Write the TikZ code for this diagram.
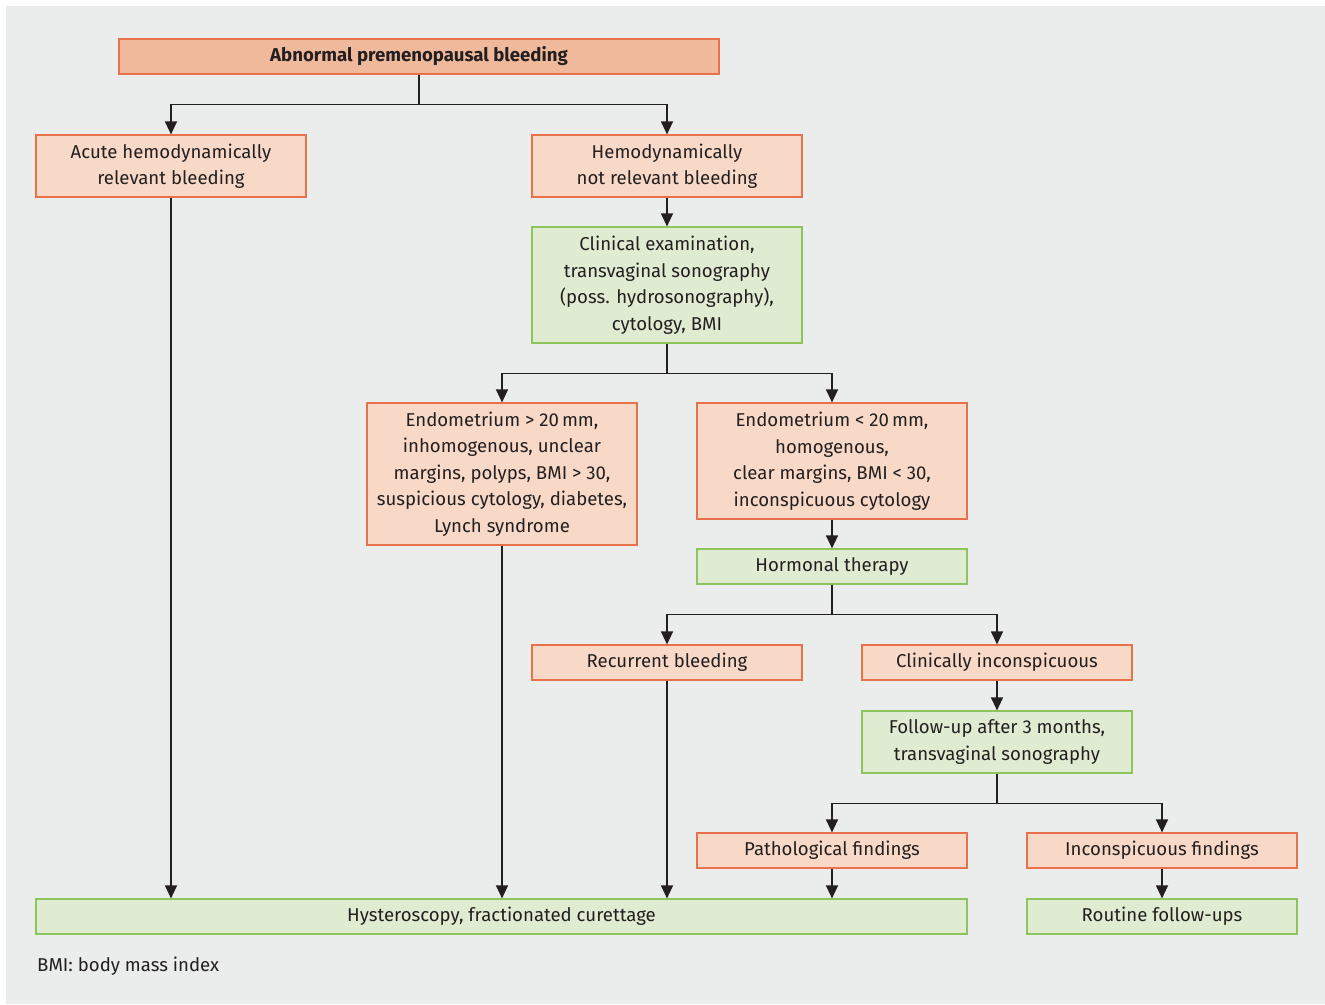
\documentclass[tikz,border=0pt]{standalone}
\usepackage{fontspec}
\setmainfont{Fira Sans}
\usetikzlibrary{arrows.meta,positioning}
\definecolor{bgGray}{HTML}{EBECEC}
\definecolor{redFill}{HTML}{F8D9C8}
\definecolor{redTop}{HTML}{F0B99B}
\definecolor{redLine}{HTML}{E6714B}
\definecolor{greenFill}{HTML}{E0ECD2}
\definecolor{greenLine}{HTML}{8DC45C}
\definecolor{inkDark}{HTML}{231F20}
\newcommand*{\boxW}{270pt}
\newcommand*{\drop}{30}

\begin{document}
\begin{tikzpicture}[x=1pt,y=-1pt,
	every node/.style={font=\fontsize{18.6}{26.5}\selectfont, text=inkDark, align=center, inner sep=0pt},
	redbox/.style={draw=redLine, fill=redFill, line width=1.2pt, minimum width=\boxW},
	greenbox/.style={draw=greenLine, fill=greenFill, line width=1.2pt, minimum width=\boxW},
	arr/.style={draw=inkDark, line width=1.3pt, -{Triangle[length=13pt,width=12pt]}},
	link/.style={draw=inkDark, line width=1.3pt}]
	\useasboundingbox (0,0) rectangle (1325,1004);
	\fill[white] (0,0) rectangle (1325,1004);
	\fill[bgGray] (6,6) rectangle (1325,1004);
	
	% boxes
	\node[redbox, fill=redTop, minimum width=600pt, minimum height=35pt] (start) at (419,56.5) {\bfseries Abnormal premenopausal bleeding};
	\node[redbox, minimum height=62pt] (acute) at (171,166) {Acute hemodynamically\\relevant bleeding};
	\node[redbox, minimum height=62pt] (notrel) at (667,166) {Hemodynamically\\not relevant bleeding};
	\node[greenbox, minimum height=116pt] (exam) at (667,285) {Clinical examination,\\transvaginal sonography\\(poss. hydrosonography),\\cytology, BMI};
	\node[redbox, minimum height=142pt] (thick) at (502,474) {Endometrium > 20\,mm,\\inhomogenous, unclear\\margins, polyps, BMI > 30,\\suspicious cytology, diabetes,\\Lynch syndrome};
	\node[redbox, minimum height=116pt] (thin) at (832,461) {Endometrium < 20\,mm,\\homogenous,\\clear margins, BMI < 30,\\inconspicuous cytology};
	\node[greenbox, minimum height=35pt] (hormone) at (832,566.5) {Hormonal therapy};
	\node[redbox, minimum height=35pt] (recur) at (667,662.5) {Recurrent bleeding};
	\node[redbox, minimum height=35pt] (clininc) at (997,662.5) {Clinically inconspicuous};
	\node[greenbox, minimum height=62pt] (follow) at (997,742) {Follow-up after 3 months,\\transvaginal sonography};
	\node[redbox, minimum height=35pt] (patho) at (832,850.5) {Pathological findings};
	\node[redbox, minimum height=35pt] (inconsp) at (1162,850.5) {Inconspicuous findings};
	\node[greenbox, minimum width=931pt, minimum height=35pt] (hyst) at (501.5,916.5) {Hysteroscopy, fractionated curettage};
	\node[greenbox, minimum height=35pt] (routine) at (1162,916.5) {Routine follow-ups};
	\node[anchor=west] (note) at (37,966) {BMI: body mass index};
	
	% branches
	\draw[link] (start.south) -- ++(0,\drop) coordinate (j1);
	\draw[arr] (j1) -| (acute.north);
	\draw[arr] (j1) -| (notrel.north);
	\draw[arr] (notrel) -- (exam);
	\draw[link] (exam.south) -- ++(0,\drop) coordinate (j2);
	\draw[arr] (j2) -| (thick.north);
	\draw[arr] (j2) -| (thin.north);
	\draw[arr] (thin) -- (hormone);
	\draw[link] (hormone.south) -- ++(0,\drop) coordinate (j3);
	\draw[arr] (j3) -| (recur.north);
	\draw[arr] (j3) -| (clininc.north);
	\draw[arr] (clininc) -- (follow);
	\draw[link] (follow.south) -- ++(0,\drop) coordinate (j4);
	\draw[arr] (j4) -| (patho.north);
	\draw[arr] (j4) -| (inconsp.north);
	\draw[arr] (inconsp) -- (routine);
	
	% into hysteroscopy
	\foreach \src in {acute,thick,recur,patho} {
		\draw[arr] (\src.south) -- (\src.south |- hyst.north);
	}
\end{tikzpicture}
\end{document}
